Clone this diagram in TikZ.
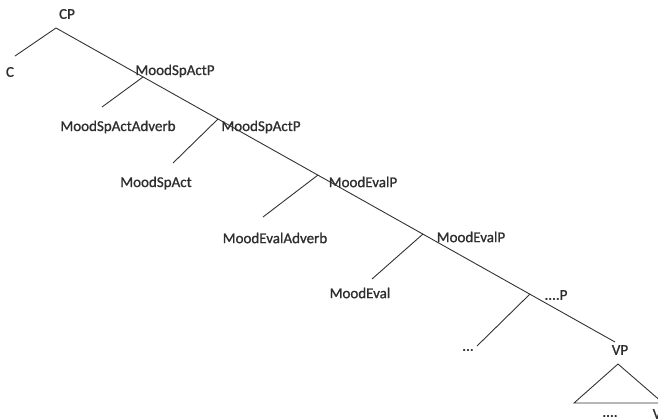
\documentclass[tikz,border=0pt]{standalone}
\usepackage{fontspec}
\setmainfont{Carlito}
\newfontfamily\lblfont{Carlito}[FakeBold=1.0]
\begin{document}
\begin{tikzpicture}[x=1pt,y=-1pt,
  lbl/.style={inner sep=0pt, font=\lblfont\fontsize{15}{17}\selectfont, text=black!82},
  edge/.style={draw=black!80, line width=0.9pt}]
\useasboundingbox (0,0) rectangle (658,418);
\clip (0,0) rectangle (658,418);
% labels
\node[lbl] (cp) at (67,14) {CP};
\node[lbl] (c) at (10,72) {C};
\node[lbl] (msa1) at (175,71) {MoodSpActP};
\node[lbl] (msaadv) at (118,127) {MoodSpActAdverb};
\node[lbl] (msa2) at (261,127) {MoodSpActP};
\node[lbl] (msa) at (156,183) {MoodSpAct};
\node[lbl] (me1) at (363,182) {MoodEvalP};
\node[lbl] (meadv) at (275,238) {MoodEvalAdverb};
\node[lbl] (me2) at (471,237) {MoodEvalP};
\node[lbl] (me) at (360,293) {MoodEval};
\node[lbl] (dp) at (556,295) {....P};
\node[lbl] (dots) at (468,350) {...};
\node[lbl] (vp) at (620,350) {VP};
\node[lbl] (tdots) at (610,416) {....};
\node[lbl] (v) at (657,414) {V};
% branch points
\coordinate (top) at (56,28);
\coordinate (bot) at (615,342);
\coordinate (b1) at (143,77);
\coordinate (b2) at (218,119);
\coordinate (b3) at (318,175);
\coordinate (b4) at (423,234);
\coordinate (b5) at (530,294);
\coordinate (e0) at (15,56);
\coordinate (e1) at (102,107);
\coordinate (e2) at (173,163);
\coordinate (e3) at (263,217);
\coordinate (e4) at (372,279);
\coordinate (e5) at (477,346);
\coordinate (ta) at (618,364);
\coordinate (tl) at (574,403);
\coordinate (tr) at (663,403);
% lines
\draw[edge] (top) -- (bot);
\draw[edge] (top) -- (e0);
\draw[edge] (b1) -- (e1);
\draw[edge] (b2) -- (e2);
\draw[edge] (b3) -- (e3);
\draw[edge] (b4) -- (e4);
\draw[edge] (b5) -- (e5);
\draw[edge] (tl) -- (ta) -- (tr) -- cycle;
\end{tikzpicture}
\end{document}
